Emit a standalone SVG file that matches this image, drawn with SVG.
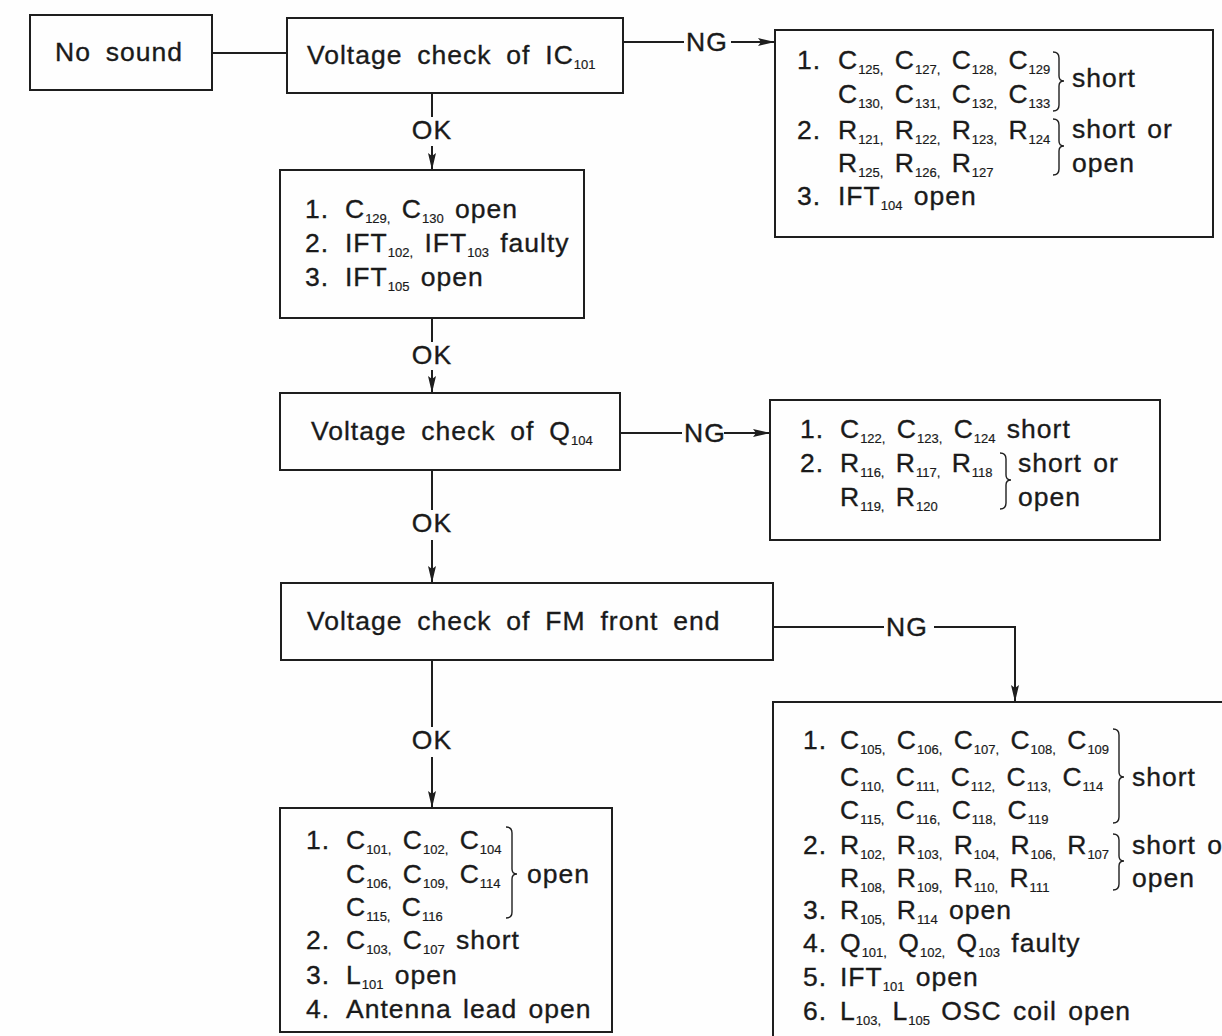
<svg xmlns="http://www.w3.org/2000/svg" width="1222" height="1036" viewBox="0 0 1222 1036">
<defs>
<style>
.bg{fill:#fefefe}
.box{fill:none;stroke:#1e1e1e;stroke-width:2}
.ln{fill:none;stroke:#1e1e1e;stroke-width:2}
.br{fill:none;stroke:#1e1e1e;stroke-width:1.4}
text{font-family:"Liberation Sans",Arial,sans-serif;font-size:26.5px;letter-spacing:1px;word-spacing:3px;fill:#1a1a1a;stroke:#1a1a1a;stroke-width:0.35}
.h{word-spacing:6.5px}
.s{font-size:13px;letter-spacing:0px;stroke-width:0.2}
</style>
<marker id="ah" markerUnits="userSpaceOnUse" markerWidth="18" markerHeight="10" refX="17" refY="5" orient="auto">
<path d="M0,1 L17,5 L0,9 L3,5 Z" fill="#1e1e1e"/>
</marker>
</defs>
<rect class="bg" x="0" y="0" width="1222" height="1036"/>

<g id="connectors">
<line class="ln" x1="212" y1="53" x2="287" y2="53"/>
<line class="ln" x1="623" y1="42" x2="684" y2="42"/>
<line class="ln" x1="731" y1="42" x2="775" y2="42" marker-end="url(#ah)"/>
<text x="686" y="51">NG</text>
<line class="ln" x1="432" y1="93" x2="432" y2="117"/>
<line class="ln" x1="432" y1="146" x2="432" y2="170" marker-end="url(#ah)"/>
<text x="432" y="139" text-anchor="middle">OK</text>
<line class="ln" x1="432" y1="318" x2="432" y2="342"/>
<line class="ln" x1="432" y1="370" x2="432" y2="393" marker-end="url(#ah)"/>
<text x="432" y="364" text-anchor="middle">OK</text>
<line class="ln" x1="620" y1="433" x2="682" y2="433"/>
<line class="ln" x1="724" y1="433" x2="770" y2="433" marker-end="url(#ah)"/>
<text x="684" y="442">NG</text>
<line class="ln" x1="432" y1="470" x2="432" y2="510"/>
<line class="ln" x1="432" y1="540" x2="432" y2="583" marker-end="url(#ah)"/>
<text x="432" y="532" text-anchor="middle">OK</text>
<line class="ln" x1="773" y1="627" x2="884" y2="627"/>
<polyline class="ln" points="934,627 1015,627 1015,702" marker-end="url(#ah)"/>
<text x="886" y="636">NG</text>
<line class="ln" x1="432" y1="660" x2="432" y2="727"/>
<line class="ln" x1="432" y1="757" x2="432" y2="808" marker-end="url(#ah)"/>
<text x="432" y="749" text-anchor="middle">OK</text>
</g>

<g id="no-sound">
<rect class="box" x="30" y="15" width="182" height="75"/>
<text class="h" x="55" y="61">No sound</text>
</g>

<g id="check-ic101">
<rect class="box" x="287" y="18" width="336" height="75"/>
<text class="h" x="307" y="64">Voltage check of IC<tspan class="s" dy="5">101</tspan></text>
</g>

<g id="ic101-ng">
<rect class="box" x="775" y="30" width="438" height="207"/>
<text x="797" y="69">1.</text>
<text x="838" y="69">C<tspan class="s" dy="5">125,</tspan><tspan dy="-5"> C</tspan><tspan class="s" dy="5">127,</tspan><tspan dy="-5"> C</tspan><tspan class="s" dy="5">128,</tspan><tspan dy="-5"> C</tspan><tspan class="s" dy="5">129</tspan></text>
<text x="838" y="103">C<tspan class="s" dy="5">130,</tspan><tspan dy="-5"> C</tspan><tspan class="s" dy="5">131,</tspan><tspan dy="-5"> C</tspan><tspan class="s" dy="5">132,</tspan><tspan dy="-5"> C</tspan><tspan class="s" dy="5">133</tspan></text>
<path class="br" d="M1053,52 Q1059,52 1059,58 L1059,76 Q1059,81 1064,81 Q1059,81 1059,86 L1059,105 Q1059,111 1053,111"/>
<text x="1072" y="87">short</text>
<text x="797" y="139">2.</text>
<text x="838" y="139">R<tspan class="s" dy="5">121,</tspan><tspan dy="-5"> R</tspan><tspan class="s" dy="5">122,</tspan><tspan dy="-5"> R</tspan><tspan class="s" dy="5">123,</tspan><tspan dy="-5"> R</tspan><tspan class="s" dy="5">124</tspan></text>
<text x="838" y="172">R<tspan class="s" dy="5">125,</tspan><tspan dy="-5"> R</tspan><tspan class="s" dy="5">126,</tspan><tspan dy="-5"> R</tspan><tspan class="s" dy="5">127</tspan></text>
<path class="br" d="M1053,119 Q1059,119 1059,125 L1059,141 Q1059,146 1064,146 Q1059,146 1059,151 L1059,169 Q1059,175 1053,175"/>
<text x="1072" y="138">short or</text>
<text x="1072" y="172">open</text>
<text x="797" y="205">3.</text>
<text x="838" y="205">IFT<tspan class="s" dy="5">104</tspan><tspan dy="-5"> open</tspan></text>
</g>

<g id="ic101-ok">
<rect class="box" x="280" y="170" width="304" height="148"/>
<text x="305" y="218">1.</text>
<text x="345" y="218">C<tspan class="s" dy="5">129,</tspan><tspan dy="-5"> C</tspan><tspan class="s" dy="5">130</tspan><tspan dy="-5"> open</tspan></text>
<text x="305" y="252">2.</text>
<text x="345" y="252">IFT<tspan class="s" dy="5">102,</tspan><tspan dy="-5"> IFT</tspan><tspan class="s" dy="5">103</tspan><tspan dy="-5"> faulty</tspan></text>
<text x="305" y="286">3.</text>
<text x="345" y="286">IFT<tspan class="s" dy="5">105</tspan><tspan dy="-5"> open</tspan></text>
</g>

<g id="check-q104">
<rect class="box" x="280" y="393" width="340" height="77"/>
<text class="h" x="311" y="440">Voltage check of Q<tspan class="s" dy="5">104</tspan></text>
</g>

<g id="q104-ng">
<rect class="box" x="770" y="400" width="390" height="140"/>
<text x="800" y="438">1.</text>
<text x="840" y="438">C<tspan class="s" dy="5">122,</tspan><tspan dy="-5"> C</tspan><tspan class="s" dy="5">123,</tspan><tspan dy="-5"> C</tspan><tspan class="s" dy="5">124</tspan><tspan dy="-5"> short</tspan></text>
<text x="800" y="472">2.</text>
<text x="840" y="472">R<tspan class="s" dy="5">116,</tspan><tspan dy="-5"> R</tspan><tspan class="s" dy="5">117,</tspan><tspan dy="-5"> R</tspan><tspan class="s" dy="5">118</tspan></text>
<text x="840" y="506">R<tspan class="s" dy="5">119,</tspan><tspan dy="-5"> R</tspan><tspan class="s" dy="5">120</tspan></text>
<path class="br" d="M1000,453 Q1006,453 1006,459 L1006,475 Q1006,480 1011,480 Q1006,480 1006,485 L1006,503 Q1006,509 1000,509"/>
<text x="1018" y="472">short or</text>
<text x="1018" y="506">open</text>
</g>

<g id="check-fm">
<rect class="box" x="281" y="583" width="492" height="77"/>
<text class="h" x="307" y="630">Voltage check of FM front end</text>
</g>

<g id="fm-ng">
<rect class="box" x="773" y="702" width="470" height="345"/>
<text x="803" y="749">1.</text>
<text x="840" y="749">C<tspan class="s" dy="5">105,</tspan><tspan dy="-5"> C</tspan><tspan class="s" dy="5">106,</tspan><tspan dy="-5"> C</tspan><tspan class="s" dy="5">107,</tspan><tspan dy="-5"> C</tspan><tspan class="s" dy="5">108,</tspan><tspan dy="-5"> C</tspan><tspan class="s" dy="5">109</tspan></text>
<text x="840" y="786">C<tspan class="s" dy="5">110,</tspan><tspan dy="-5"> C</tspan><tspan class="s" dy="5">111,</tspan><tspan dy="-5"> C</tspan><tspan class="s" dy="5">112,</tspan><tspan dy="-5"> C</tspan><tspan class="s" dy="5">113,</tspan><tspan dy="-5"> C</tspan><tspan class="s" dy="5">114</tspan></text>
<text x="840" y="819">C<tspan class="s" dy="5">115,</tspan><tspan dy="-5"> C</tspan><tspan class="s" dy="5">116,</tspan><tspan dy="-5"> C</tspan><tspan class="s" dy="5">118,</tspan><tspan dy="-5"> C</tspan><tspan class="s" dy="5">119</tspan></text>
<path class="br" d="M1113,729 Q1119,729 1119,735 L1119,772 Q1119,777 1124,777 Q1119,777 1119,782 L1119,817 Q1119,823 1113,823"/>
<text x="1132" y="786">short</text>
<text x="803" y="854">2.</text>
<text x="840" y="854">R<tspan class="s" dy="5">102,</tspan><tspan dy="-5"> R</tspan><tspan class="s" dy="5">103,</tspan><tspan dy="-5"> R</tspan><tspan class="s" dy="5">104,</tspan><tspan dy="-5"> R</tspan><tspan class="s" dy="5">106,</tspan><tspan dy="-5"> R</tspan><tspan class="s" dy="5">107</tspan></text>
<text x="840" y="887">R<tspan class="s" dy="5">108,</tspan><tspan dy="-5"> R</tspan><tspan class="s" dy="5">109,</tspan><tspan dy="-5"> R</tspan><tspan class="s" dy="5">110,</tspan><tspan dy="-5"> R</tspan><tspan class="s" dy="5">111</tspan></text>
<path class="br" d="M1113,834 Q1119,834 1119,840 L1119,856 Q1119,861 1124,861 Q1119,861 1119,866 L1119,884 Q1119,890 1113,890"/>
<text x="1132" y="854">short or</text>
<text x="1132" y="887">open</text>
<text x="803" y="919">3.</text>
<text x="840" y="919">R<tspan class="s" dy="5">105,</tspan><tspan dy="-5"> R</tspan><tspan class="s" dy="5">114</tspan><tspan dy="-5"> open</tspan></text>
<text x="803" y="952">4.</text>
<text x="840" y="952">Q<tspan class="s" dy="5">101,</tspan><tspan dy="-5"> Q</tspan><tspan class="s" dy="5">102,</tspan><tspan dy="-5"> Q</tspan><tspan class="s" dy="5">103</tspan><tspan dy="-5"> faulty</tspan></text>
<text x="803" y="986">5.</text>
<text x="840" y="986">IFT<tspan class="s" dy="5">101</tspan><tspan dy="-5"> open</tspan></text>
<text x="803" y="1020">6.</text>
<text x="840" y="1020">L<tspan class="s" dy="5">103,</tspan><tspan dy="-5"> L</tspan><tspan class="s" dy="5">105</tspan><tspan dy="-5"> OSC coil open</tspan></text>
</g>

<g id="fm-ok">
<rect class="box" x="280" y="808" width="332" height="224"/>
<text x="306" y="849">1.</text>
<text x="346" y="849">C<tspan class="s" dy="5">101,</tspan><tspan dy="-5"> C</tspan><tspan class="s" dy="5">102,</tspan><tspan dy="-5"> C</tspan><tspan class="s" dy="5">104</tspan></text>
<text x="346" y="883">C<tspan class="s" dy="5">106,</tspan><tspan dy="-5"> C</tspan><tspan class="s" dy="5">109,</tspan><tspan dy="-5"> C</tspan><tspan class="s" dy="5">114</tspan></text>
<text x="346" y="916">C<tspan class="s" dy="5">115,</tspan><tspan dy="-5"> C</tspan><tspan class="s" dy="5">116</tspan></text>
<path class="br" d="M506,827 Q512,827 512,833 L512,869 Q512,874 517,874 Q512,874 512,879 L512,912 Q512,918 506,918"/>
<text x="527" y="883">open</text>
<text x="306" y="949">2.</text>
<text x="346" y="949">C<tspan class="s" dy="5">103,</tspan><tspan dy="-5"> C</tspan><tspan class="s" dy="5">107</tspan><tspan dy="-5"> short</tspan></text>
<text x="306" y="984">3.</text>
<text x="346" y="984">L<tspan class="s" dy="5">101</tspan><tspan dy="-5"> open</tspan></text>
<text x="306" y="1018">4.</text>
<text x="346" y="1018">Antenna lead open</text>
</g>
</svg>
